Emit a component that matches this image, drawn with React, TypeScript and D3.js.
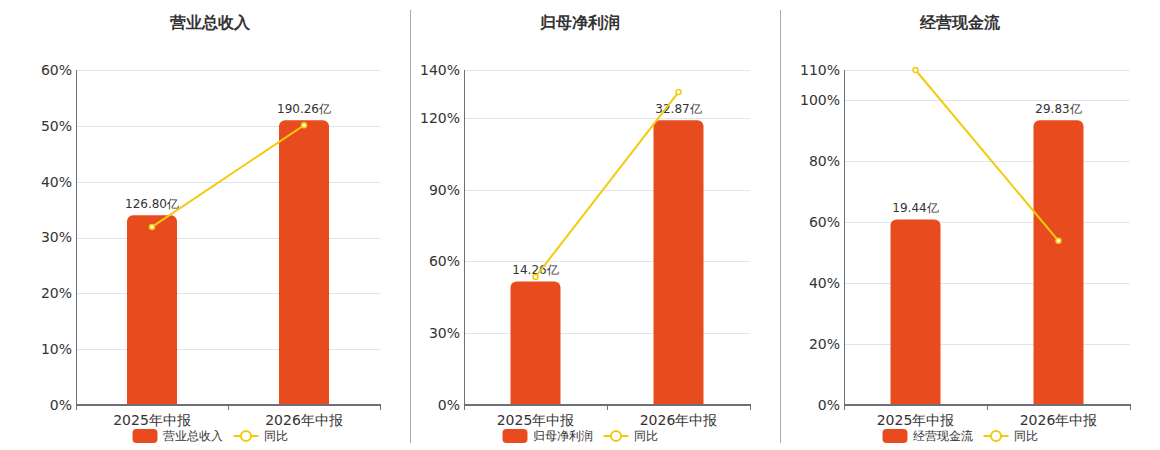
import { useEffect, useRef } from "react";
import * as d3 from "d3";

const categories = ["2025年中报", "2026年中报"];

const titles = ["营业总收入", "归母净利润", "经营现金流"];
const barValues = [
	[126.8, 190.26],
	[14.26, 32.87],
	[19.44, 29.83],
];
const yoyValues = [
	[31.9, 50.1],
	[53.5, 130.8],
	[110, 53.9],
];
const yTicks = [
	[0, 10, 20, 30, 40, 50, 60],
	[0, 30, 60, 90, 120, 140],
	[0, 20, 40, 60, 80, 100, 110],
];

const BAR_COLOR = "#E84C1E";
const LINE_COLOR = "#F2CB0C";
const FONT = "'DejaVu Sans', Verdana, sans-serif";

// layout of each panel: plot left/right and title center
const panels = [
	{ left: 76, right: 380, center: 210 },
	{ left: 464, right: 750, center: 580 },
	{ left: 844, right: 1130, center: 960 },
];
const plotTop = 70;
const plotBottom = 405;

const App = () => {
	const svgRef = useRef<SVGSVGElement>(null);

	useEffect(() => {
		if (!svgRef.current) return;
		const svg = d3.select(svgRef.current);
		svg.selectAll("*").remove();

		// separators
		[410, 780].forEach((x) => {
			svg
				.append("line")
				.attr("x1", x + 0.5)
				.attr("x2", x + 0.5)
				.attr("y1", 10)
				.attr("y2", 443)
				.attr("stroke", "#aaa")
				.attr("stroke-width", 1);
		});

		panels.forEach((p, i) => {
			const g = svg.append("g");
			const ticks = yTicks[i];
			const yMax = ticks[ticks.length - 1];

			const x = d3
				.scaleBand<string>()
				.domain(categories)
				.range([p.left, p.right]);
			const y = d3
				.scaleLinear()
				.domain([0, yMax])
				.range([plotBottom, plotTop]);
			const yBar = d3
				.scaleLinear()
				.domain([0, d3.max(barValues[i])! / 0.85])
				.range([plotBottom, plotTop]);

			// title
			g.append("text")
				.attr("x", p.center)
				.attr("y", 28)
				.attr("text-anchor", "middle")
				.style("font-family", FONT)
				.style("font-size", "16px")
				.style("font-weight", "bold")
				.attr("fill", "#333")
				.text(titles[i]);

			// grid lines
			g.selectAll(".grid")
				.data(ticks.slice(1))
				.join("line")
				.attr("x1", p.left)
				.attr("x2", p.right)
				.attr("y1", (d) => Math.round(y(d)) + 0.5)
				.attr("y2", (d) => Math.round(y(d)) + 0.5)
				.attr("stroke", "#E0E6F1");

			// y labels
			g.selectAll(".ylab")
				.data(ticks)
				.join("text")
				.attr("x", p.left - 4)
				.attr("y", (d) => y(d))
				.attr("dy", "0.35em")
				.attr("text-anchor", "end")
				.style("font-family", FONT)
				.style("font-size", "14px")
				.attr("fill", "#333")
				.text((d) => `${d}%`);

			// y axis line
			g.append("line")
				.attr("x1", p.left + 0.5)
				.attr("x2", p.left + 0.5)
				.attr("y1", plotTop)
				.attr("y2", plotBottom)
				.attr("stroke", "#6E7079");

			// bars
			const bw = 50;
			g.selectAll(".bar")
				.data(barValues[i])
				.join("path")
				.attr("fill", BAR_COLOR)
				.attr("d", (d, j) => {
					const cx = x(categories[j])! + x.bandwidth() / 2;
					const x0 = cx - bw / 2;
					const top = yBar(d);
					const r = 6;
					const p2 = d3.path();
					p2.moveTo(x0, plotBottom);
					p2.lineTo(x0, top + r);
					p2.arcTo(x0, top, x0 + r, top, r);
					p2.lineTo(x0 + bw - r, top);
					p2.arcTo(x0 + bw, top, x0 + bw, top + r, r);
					p2.lineTo(x0 + bw, plotBottom);
					p2.closePath();
					return p2.toString();
				});

			// bar labels
			g.selectAll(".blab")
				.data(barValues[i])
				.join("text")
				.attr("x", (_, j) => x(categories[j])! + x.bandwidth() / 2)
				.attr("y", (d) => yBar(d) - 7)
				.attr("text-anchor", "middle")
				.style("font-family", FONT)
				.style("font-size", "12px")
				.attr("fill", "#333")
				.text((d) => `${d.toFixed(2)}亿`);

			// x axis
			g.append("line")
				.attr("x1", p.left)
				.attr("x2", p.right + 1)
				.attr("y1", plotBottom)
				.attr("y2", plotBottom)
				.attr("stroke", "#6E7079")
				.attr("stroke-width", 2);
			const tickXs = [p.left, ...categories.map((c) => x(c)! + x.bandwidth())];
			g.selectAll(".xtick")
				.data(tickXs)
				.join("line")
				.attr("x1", (d) => d + 0.5)
				.attr("x2", (d) => d + 0.5)
				.attr("y1", plotBottom)
				.attr("y2", plotBottom + 5)
				.attr("stroke", "#6E7079");
			g.selectAll(".xlab")
				.data(categories)
				.join("text")
				.attr("x", (d) => x(d)! + x.bandwidth() / 2)
				.attr("y", 425)
				.attr("text-anchor", "middle")
				.style("font-family", FONT)
				.style("font-size", "14px")
				.attr("fill", "#333")
				.text((d) => d);

			// yoy line
			const line = d3
				.line<number>()
				.x((_, j) => x(categories[j])! + x.bandwidth() / 2)
				.y((d) => y(d));
			g.append("path")
				.datum(yoyValues[i])
				.attr("d", line)
				.attr("fill", "none")
				.attr("stroke", LINE_COLOR)
				.attr("stroke-width", 2);
			g.selectAll(".dot")
				.data(yoyValues[i])
				.join("circle")
				.attr("cx", (_, j) => x(categories[j])! + x.bandwidth() / 2)
				.attr("cy", (d) => y(d))
				.attr("r", 2.5)
				.attr("fill", "#fff")
				.attr("stroke", LINE_COLOR)
				.attr("stroke-width", 1.5);

			// legend
			const nameW = titles[i].length * 12;
			const total = 25 + 5 + nameW + 11 + 25 + 5 + 24;
			let lx = p.center - total / 2;
			const ly = 436;
			g.append("rect")
				.attr("x", lx)
				.attr("y", ly - 7)
				.attr("width", 25)
				.attr("height", 14)
				.attr("rx", 4)
				.attr("fill", BAR_COLOR);
			lx += 30;
			g.append("text")
				.attr("x", lx)
				.attr("y", ly)
				.attr("dy", "0.35em")
				.style("font-family", FONT)
				.style("font-size", "12px")
				.attr("fill", "#333")
				.text(titles[i]);
			lx += nameW + 11;
			g.append("line")
				.attr("x1", lx)
				.attr("x2", lx + 25)
				.attr("y1", ly)
				.attr("y2", ly)
				.attr("stroke", LINE_COLOR)
				.attr("stroke-width", 2);
			g.append("circle")
				.attr("cx", lx + 12.5)
				.attr("cy", ly)
				.attr("r", 5)
				.attr("fill", "#fff")
				.attr("stroke", LINE_COLOR)
				.attr("stroke-width", 2);
			lx += 30;
			g.append("text")
				.attr("x", lx)
				.attr("y", ly)
				.attr("dy", "0.35em")
				.style("font-family", FONT)
				.style("font-size", "12px")
				.attr("fill", "#333")
				.text("同比");
		});
	}, []);

	return (
		<svg
			ref={svgRef}
			width={1160}
			height={450}
			style={{ position: "absolute", left: 0, top: 0, background: "#fff" }}
		/>
	);
};

export default App;
